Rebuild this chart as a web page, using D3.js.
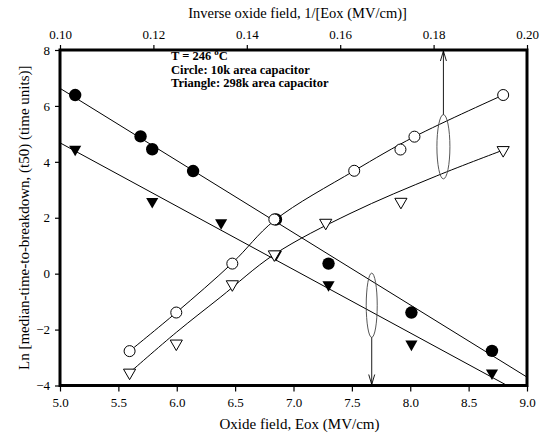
<!DOCTYPE html>
<html>
<head>
<meta charset="utf-8">
<script src="https://cdn.jsdelivr.net/npm/d3@7"></script>
<style>
  body { margin: 0; background: #fff; }
  svg { font-family: "Liberation Serif", "Times New Roman", serif; }
</style>
</head>
<body>
<div id="chart"></div>
<script>
// filled marks, plotted against oxide field (bottom axis)
var eCircle = [5.13, 5.69, 5.79, 6.14, 6.85, 7.30, 8.01, 8.70];
var lnCircle = [6.39, 4.91, 4.45, 3.67, 1.94, 0.36, -1.39, -2.76];
var eTriangle = [5.13, 5.79, 6.38, 6.85, 7.30, 8.01, 8.70];
var lnTriangle = [4.45, 2.58, 1.82, 0.69, -0.40, -2.52, -3.55];

// open marks, plotted against inverse field (top axis)
var invCircle = [0.1949, 0.1759, 0.1729, 0.1630, 0.1459, 0.1369, 0.1249, 0.1149];
var lnCircleInv = [6.39, 4.90, 4.44, 3.68, 1.94, 0.36, -1.39, -2.77];
var invTriangle = [0.1949, 0.1730, 0.1569, 0.1459, 0.1369, 0.1249, 0.1149];
var lnTriangleInv = [4.42, 2.57, 1.82, 0.69, -0.38, -2.50, -3.54];

// fitted lines (E) and curves (1/E)
var fitCircleE = [5.0, 9.0];
var fitCircleLn = [6.63, -3.70];
var fitTriangleE = [5.0, 8.83];
var fitTriangleLn = [4.68, -4.0];
var curveCircleInv = [0.1149, 0.1249, 0.1369, 0.1459, 0.1630, 0.1759, 0.1949];
var curveCircleLn = [-2.77, -1.39, 0.38, 1.90, 3.68, 4.90, 6.39];
var curveTriangleInv = [0.1149, 0.1249, 0.1343, 0.1459, 0.1621, 0.1807, 0.1949];
var curveTriangleLn = [-3.54, -2.10, -0.85, 0.69, 2.15, 3.50, 4.42];

// ticks
var xTicks = [5.0, 5.5, 6.0, 6.5, 7.0, 7.5, 8.0, 8.5, 9.0];
var topTicks = [0.10, 0.12, 0.14, 0.16, 0.18, 0.20];
var yTicks = [-4, -2, 0, 2, 4, 6, 8];

var noteLines = ['Circle: 10k area capacitor', 'Triangle: 298k area capacitor'];

var width = 549;
var height = 437;
var margin = { top: 50, right: 22, bottom: 51.5, left: 60 };
var serif = '"Liberation Serif", "Times New Roman", serif';

var svg = d3.select('#chart').append('svg')
  .attr('width', width)
  .attr('height', height);

var x = d3.scaleLinear().domain([5, 9]).range([margin.left, width - margin.right]);
var xInv = d3.scaleLinear().domain([0.10, 0.20]).range([margin.left, width - margin.right]);
var y = d3.scaleLinear().domain([-4, 8]).range([height - margin.bottom, margin.top]);

var zip = (a, b) => a.map((d, i) => [d, b[i]]);

// axes
var styleAxis = g => {
  g.attr('font-family', serif).attr('font-size', 13);
  g.select('.domain').remove();
  g.selectAll('.tick line').attr('stroke', '#000').attr('stroke-width', 1.2);
  g.selectAll('.tick text').attr('fill', '#000');
};

svg.append('g')
  .attr('transform', `translate(0,${height - margin.bottom})`)
  .call(d3.axisBottom(x).tickValues(xTicks).tickSize(6).tickPadding(6).tickFormat(d3.format('.1f')))
  .call(styleAxis);

svg.append('g')
  .attr('transform', `translate(0,${margin.top})`)
  .call(d3.axisTop(xInv).tickValues(topTicks).tickSize(5).tickPadding(6).tickFormat(d3.format('.2f')))
  .call(styleAxis);

svg.append('g')
  .attr('transform', `translate(${margin.left},0)`)
  .call(d3.axisLeft(y).tickValues(yTicks).tickSize(5).tickPadding(5).tickFormat(d3.format('d')))
  .call(styleAxis);

// frame
svg.append('rect')
  .attr('x', margin.left)
  .attr('y', margin.top)
  .attr('width', width - margin.left - margin.right)
  .attr('height', height - margin.top - margin.bottom)
  .attr('fill', 'none')
  .attr('stroke', '#000')
  .attr('stroke-width', 3);

// axis titles
svg.append('text')
  .attr('x', (margin.left + width - margin.right) / 2 + 4)
  .attr('y', 18)
  .attr('text-anchor', 'middle')
  .style('font-size', '14.5px')
  .text('Inverse oxide field, 1/[Eox (MV/cm)]');

svg.append('text')
  .attr('x', (margin.left + width - margin.right) / 2 + 6)
  .attr('y', 429)
  .attr('text-anchor', 'middle')
  .style('font-size', '15px')
  .text('Oxide field, Eox (MV/cm)');

svg.append('text')
  .attr('transform', `translate(29,${(margin.top + height - margin.bottom) / 2}) rotate(-90)`)
  .attr('text-anchor', 'middle')
  .style('font-size', '15px')
  .text('Ln [median-time-to-breakdown, (t50) (time units)]');

// fits
var lineE = d3.line().x(d => x(d[0])).y(d => y(d[1]));
var lineInv = d3.line().x(d => xInv(d[0])).y(d => y(d[1])).curve(d3.curveCatmullRom);

var fits = svg.append('g').attr('fill', 'none').attr('stroke', '#000').attr('stroke-width', 1);
fits.append('path').attr('d', lineE(zip(fitCircleE, fitCircleLn)));
fits.append('path').attr('d', lineE(zip(fitTriangleE, fitTriangleLn)));
fits.append('path').attr('d', lineInv(zip(curveCircleInv, curveCircleLn)));
fits.append('path').attr('d', lineInv(zip(curveTriangleInv, curveTriangleLn)));

// ellipses and arrows
var ellipses = [
  { sx: xInv, cx: 0.1821, cy: 4.54, rx: 6.5, dy: 1.15, from: 5.69, to: 8 },
  { sx: x, cx: 7.67, cy: -1.13, rx: 5.5, dy: 1.15, from: -2.28, to: -4 }
];
var ann = svg.append('g').attr('fill', 'none').attr('stroke', '#000').attr('stroke-width', 0.9);
ellipses.forEach(e => {
  var cx = e.sx(e.cx);
  ann.append('ellipse')
    .attr('cx', cx).attr('cy', y(e.cy))
    .attr('rx', e.rx).attr('ry', y(e.cy) - y(e.cy + e.dy))
    .attr('stroke', '#444');
  var y0 = y(e.from), y1 = y(e.to);
  ann.append('line').attr('x1', cx).attr('x2', cx).attr('y1', y0).attr('y2', y1);
  var dir = y1 < y0 ? 1 : -1;
  ann.append('path')
    .attr('d', `M${cx - 3},${y1 + dir * 11}L${cx},${y1 + dir * 1}L${cx + 3},${y1 + dir * 11}`);
});

// markers
var tri = d3.symbol().type(d3.symbolTriangle).size(64);

svg.append('g').selectAll('circle.filled')
  .data(zip(eCircle, lnCircle)).enter().append('circle')
  .attr('cx', d => x(d[0])).attr('cy', d => y(d[1])).attr('r', 6.2)
  .attr('fill', '#000');

svg.append('g').selectAll('path.filled')
  .data(zip(eTriangle, lnTriangle)).enter().append('path')
  .attr('d', tri)
  .attr('transform', d => `translate(${x(d[0])},${y(d[1])}) rotate(180)`)
  .attr('fill', '#000');

svg.append('g').selectAll('circle.open')
  .data(zip(invCircle, lnCircleInv)).enter().append('circle')
  .attr('cx', d => xInv(d[0])).attr('cy', d => y(d[1])).attr('r', 5.5)
  .attr('fill', '#fff').attr('stroke', '#000').attr('stroke-width', 1);

svg.append('g').selectAll('path.open')
  .data(zip(invTriangle, lnTriangleInv)).enter().append('path')
  .attr('d', tri)
  .attr('transform', d => `translate(${xInv(d[0])},${y(d[1])}) rotate(180)`)
  .attr('fill', '#fff').attr('stroke', '#000').attr('stroke-width', 1);

// note
var note = svg.append('g').attr('font-weight', 'bold').style('font-size', '12.5px');
var t = note.append('text').attr('x', 171).attr('y', 59.5);
t.append('tspan').text('T = 246 ');
t.append('tspan').attr('dy', -4.5).style('font-size', '9px').text('o');
t.append('tspan').attr('dy', 4.5).text('C');
note.selectAll('text.line')
  .data(noteLines).enter().append('text')
  .attr('x', 171)
  .attr('y', (d, i) => 73.5 + i * 13.5)
  .text(d => d);
</script>
</body>
</html>
